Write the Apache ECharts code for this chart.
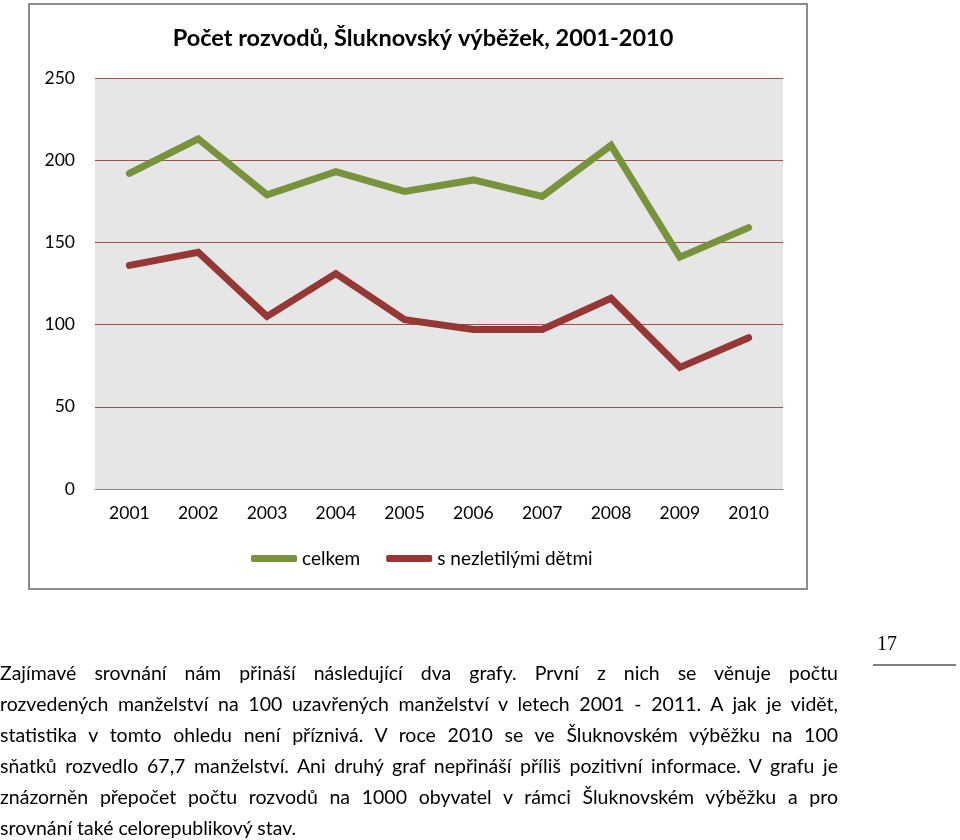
<!DOCTYPE html>
<html>
<head>
<meta charset="utf-8">
<script src="https://cdn.jsdelivr.net/npm/echarts@6/dist/echarts.min.js"></script>
<style>
  html, body { margin: 0; padding: 0; background: #fff; }
  #main { position: absolute; left: 0; top: 0; width: 960px; height: 840px; }
  .text { position: absolute; left: 0; top: 657px; width: 838px; font-family: Lato, "Open Sans", sans-serif; font-size: 19.5px; line-height: 31px; color: #000; }
  .text div { text-align: justify; text-align-last: justify; white-space: nowrap; }
  .text div.last { text-align-last: left; }
  .pagenum { position: absolute; left: 877px; top: 632px; font-family: "Liberation Serif", serif; font-size: 20px; color: #000; }
  .pageline { position: absolute; left: 873px; top: 664px; width: 83px; height: 2px; background: #7f7f7f; }
</style>
</head>
<body>
<div id="main"></div>
<div class="pagenum">17</div>
<div class="pageline"></div>
<div class="text">
  <div>Zajímavé srovnání nám přináší následující dva grafy. První z nich se věnuje počtu</div>
  <div>rozvedených manželství na 100 uzavřených manželství v letech 2001 - 2011. A jak je vidět,</div>
  <div>statistika v tomto ohledu není příznivá. V roce 2010 se ve Šluknovském výběžku na 100</div>
  <div>sňatků rozvedlo 67,7 manželství. Ani druhý graf nepřináší příliš pozitivní informace. V grafu je</div>
  <div>znázorněn přepočet počtu rozvodů na 1000 obyvatel v rámci Šluknovském výběžku a pro</div>
  <div class="last">srovnání také celorepublikový stav.</div>
</div>
<script>
// hodnoty
var years = ['2001', '2002', '2003', '2004', '2005', '2006', '2007', '2008', '2009', '2010'];
var celkem = [192, 213, 179, 193, 181, 188, 178, 209, 141, 159];
var sDetmi = [136, 144, 105, 131, 103, 97, 97, 116, 74, 92];

var myChart = echarts.init(document.getElementById('main'));
var font = 'Lato, "Open Sans", sans-serif';

var option = {
  animation: false,
  title: {
    text: 'Počet rozvodů, Šluknovský výběžek, 2001-2010',
    left: 418,
    top: 21,
    textAlign: 'center',
    textStyle: {
      color: '#000',
      fontWeight: 'bold',
      fontSize: 23.5,
      fontFamily: font
    }
  },
  legend: {
    data: ['celkem', 's nezletilými dětmi'],
    left: 246,
    top: 544,
    itemWidth: 46,
    itemHeight: 7,
    itemGap: 26,
    icon: 'roundRect',
    textStyle: {
      color: '#000',
      fontSize: 19,
      fontFamily: font
    }
  },
  grid: {
    left: 95,
    right: 177,
    top: 78,
    bottom: 351,
    show: true,
    backgroundColor: '#e6e6e6',
    borderWidth: 0
  },
  xAxis: {
    type: 'category',
    data: years,
    boundaryGap: true,
    axisLine: { lineStyle: { color: '#8c8c8c', width: 1 } },
    axisTick: { show: false },
    axisLabel: {
      margin: 15,
      color: '#000',
      fontSize: 17.5,
      fontFamily: font
    }
  },
  yAxis: {
    type: 'value',
    min: 0,
    max: 250,
    interval: 50,
    axisLine: { show: false },
    axisTick: { show: false },
    axisLabel: {
      margin: 20,
      color: '#000',
      fontSize: 17.5,
      fontFamily: font
    },
    splitLine: {
      show: true,
      lineStyle: { color: '#a0504f', width: 1 }
    }
  },
  graphic: [{
    type: 'rect',
    shape: { x: 29, y: 4, width: 778, height: 585 },
    style: { fill: 'none', stroke: '#8c8c8c', lineWidth: 2 },
    z: -1
  }],
  series: [
    {
      name: 'celkem',
      type: 'line',
      data: celkem,
      showSymbol: false,
      symbol: 'none',
      color: '#77933c',
      lineStyle: { width: 7, color: '#77933c', cap: 'round', join: 'miter' }
    },
    {
      name: 's nezletilými dětmi',
      type: 'line',
      data: sDetmi,
      showSymbol: false,
      symbol: 'none',
      color: '#953735',
      lineStyle: { width: 7, color: '#953735', cap: 'round', join: 'miter' }
    }
  ]
};

myChart.setOption(option);
</script>
</body>
</html>
